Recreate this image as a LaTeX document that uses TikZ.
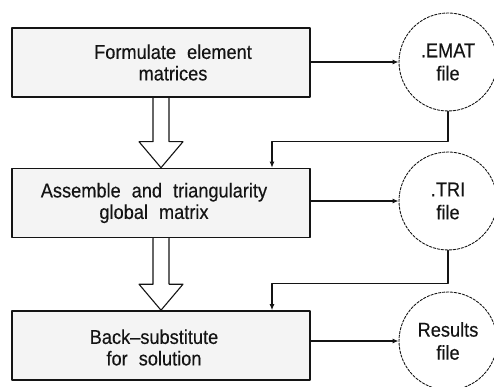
\documentclass[tikz,border=0pt]{standalone}
\usepackage{fontspec}
\setmainfont{Liberation Sans}[FakeStretch=0.91, FakeBold=0.3]
\usetikzlibrary{arrows.meta,calc,positioning}
\definecolor{boxgray}{HTML}{F4F4F4}
\definecolor{ink}{HTML}{141414}
\newcommand{\widewords}{\spaceskip 11pt\relax}
\tikzset{
  stage/.style={draw=ink, line width=1.6pt, fill=boxgray, minimum width=298pt, minimum height=69pt, inner sep=0pt},
  stagetext/.style={align=center, text=ink, inner sep=0pt, font={\fontsize{20}{21.5}\selectfont\widewords}},
  datafile/.style={circle, draw=ink, line width=0.9pt, dash pattern=on 2.5pt off 1.5pt, minimum size=98pt, inner sep=0pt,
    align=center, text=ink, font=\fontsize{20}{23}\selectfont},
  flow/.style={draw=ink, line width=1.1pt, -{Latex[length=6pt,width=5pt]}},
  fatarrow/.style={draw=ink, line width=1.1pt},
  every picture/.style={line cap=round, line join=round}
}
% hollow block arrow from the bottom of one stage to the top of the next
\newcommand{\fatdown}[2]{%
  \draw[fatarrow] ($(#1.south)+(-8,0)$) |- ($(#2.north)+(-22,-26)$) -- (#2.north)
    -- ($(#2.north)+(22,-26)$) -| ($(#1.south)+(8,0)$);}

\begin{document}
\begin{tikzpicture}[x=1pt, y=-1pt]
  \useasboundingbox (0,0) rectangle (494,387);

  % processing stages
  \node[stage] (form) at (161,62.5) {};
  \node[stage] (assemble) at (161,203) {};
  \node[stage] (back) at (161,345.5) {};
  \node[stagetext] (form-txt) at ([xshift=12pt]form.center) {Formulate element\\matrices};
  \node[stagetext] (assemble-txt) at ([xshift=-7pt]assemble.center) {Assemble and triangularity\\global matrix};
  \node[stagetext] (back-txt) at ([xshift=-7pt,yshift=-2pt]back.center) {Back--substitute\\for solution};

  % files written by each stage
  \node[datafile] (emat) at (448,62) {.EMAT\\file};
  \node[datafile] (tri) at (448,201) {.TRI\\file};
  \node[datafile] (results) at (448,341) {Results\\file};

  \draw[flow] (emat.west -| form.east) -- (emat.west);
  \draw[flow] (tri.west -| assemble.east) -- (tri.west);
  \draw[flow] (results.west -| back.east) -- (results.west);

  % files read back by the next stage
  \draw[flow] (emat.south) -- ++(0,30) -| ([xshift=111pt]assemble.north);
  \draw[flow] (tri.south) -- ++(0,33) -| ([xshift=111pt]back.north);

  \fatdown{form}{assemble}
  \fatdown{assemble}{back}
\end{tikzpicture}
\end{document}
